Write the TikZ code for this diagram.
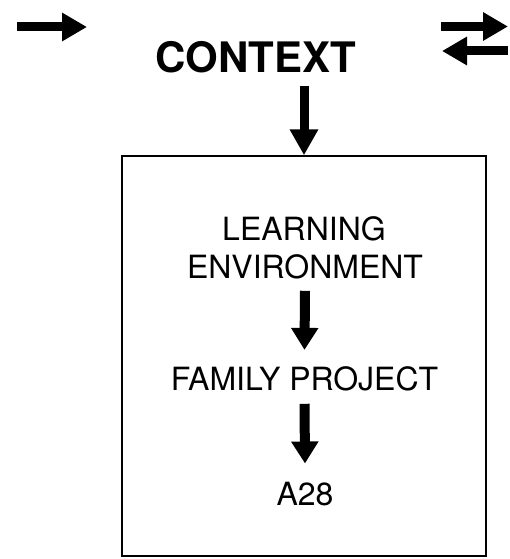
\documentclass[tikz,border=0pt]{standalone}
\usepackage{fontspec}
\newfontfamily\hv{TeX Gyre Heros}
\usetikzlibrary{arrows.meta}
\tikzset{
  lbl/.style={inner sep=0pt, anchor=base, font=\hv\fontsize{32}{38}\selectfont},
  ctxlbl/.style={inner sep=0pt, anchor=base, font=\hv\bfseries\fontsize{42}{48}\selectfont},
  bigarrow/.style={line width=9pt, -{Triangle[width=27pt,length=26pt]}},
  smallarrow/.style={line width=9pt, -{Triangle[width=27pt,length=25pt]}},
  inarrow/.style={line width=10pt, -{Triangle[width=26pt,length=22pt]}},
  frame/.style={draw, line width=1.5pt, minimum width=364pt, minimum height=400pt, inner sep=0pt}
}
\begin{document}
\begin{tikzpicture}[x=1pt,y=-1pt]
\useasboundingbox (0,0) rectangle (510,559);
\node[frame] (box) at (304,356) {};
\node[ctxlbl] (context) at (256,73) {CONTEXT};
\node[lbl] (learn) at (304,240) {LEARNING};
\node[lbl] (env) at (305,278) {ENVIRONMENT};
\node[lbl] (family) at (304.5,390) {FAMILY PROJECT};
\node[lbl] (a28) at (305,505) {A28};
\coordinate (l1) at (17,27);
\coordinate (l2) at (87,27);
\coordinate (r1) at (441,26.5);
\coordinate (r2) at (508,26.5);
\coordinate (r3) at (508,51);
\coordinate (r4) at (442,51);
\coordinate (ctxstart) at ([yshift=-12pt]context.south -| box.north);
\draw[smallarrow] (l1) -- (l2);
\draw[smallarrow] (r1) -- (r2);
\draw[smallarrow] (r3) -- (r4);
\draw[bigarrow] (ctxstart) -- (box.north);
\draw[inarrow] ([yshift=-12pt]env.south) -- ([yshift=16pt]family.north);
\draw[inarrow] ([yshift=-13pt]family.south) -- ([yshift=18pt]a28.north);
\end{tikzpicture}
\end{document}
